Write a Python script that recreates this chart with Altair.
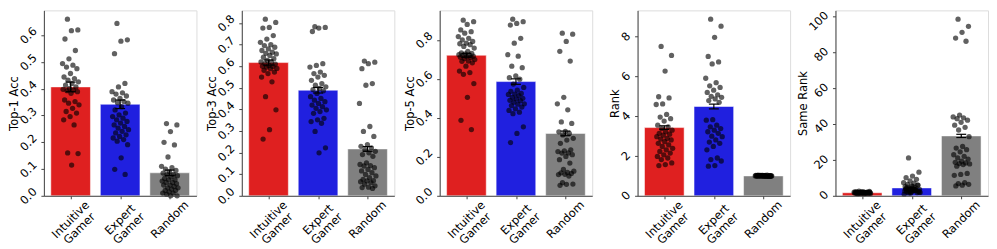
import json
import altair as alt
import pandas as pd

GROUPS = ["Intuitive\nGamer", "Expert\nGamer", "Random"]
COLORS = ["#df2020", "#2020df", "#808080"]

TITLES = ["Top-1 Acc", "Top-3 Acc", "Top-5 Acc", "Rank", "Same Rank"]
TICKS = [
    [0.0, 0.1, 0.2, 0.3, 0.4, 0.5, 0.6],
    [0.0, 0.1, 0.2, 0.3, 0.4, 0.5, 0.6, 0.7, 0.8],
    [0.0, 0.2, 0.4, 0.6, 0.8],
    [0, 2, 4, 6, 8],
    [0, 20, 40, 60, 80, 100],
]
FORMATS = [".1f", ".1f", ".1f", "d", "d"]

MEANS = [
    [0.407, 0.342, 0.086],
    [0.617, 0.489, 0.217],
    [0.721, 0.586, 0.320],
    [3.43, 4.49, 1.00],
    [1.7, 4.4, 33.4],
]
SEMS = [
    [0.018, 0.016, 0.010],
    [0.012, 0.013, 0.011],
    [0.010, 0.014, 0.012],
    [0.09, 0.12, 0.005],
    [0.06, 0.30, 0.9],
]

top1_intuitive = [0.66, 0.62, 0.617, 0.586, 0.543, 0.512, 0.494, 0.488, 0.481, 0.475, 0.457, 0.444,
                  0.438, 0.432, 0.426, 0.42, 0.414, 0.407, 0.401, 0.398, 0.395, 0.393, 0.389, 0.383,
                  0.358, 0.352, 0.346, 0.34, 0.327, 0.315, 0.309, 0.296, 0.284, 0.265, 0.16, 0.158, 0.115]
top1_expert = [0.644, 0.583, 0.578, 0.531, 0.42, 0.407, 0.389, 0.385, 0.38, 0.373, 0.364, 0.358, 0.352,
               0.348, 0.346, 0.333, 0.321, 0.309, 0.302, 0.296, 0.29, 0.284, 0.278, 0.272, 0.265, 0.259,
               0.253, 0.247, 0.241, 0.235, 0.228, 0.222, 0.216, 0.21, 0.204, 0.191, 0.142, 0.099, 0.08]
top1_random = [0.27, 0.265, 0.24, 0.2, 0.19, 0.145, 0.11, 0.105, 0.1, 0.095, 0.09, 0.085, 0.08, 0.08,
               0.075, 0.07, 0.065, 0.06, 0.06, 0.055, 0.05, 0.05, 0.045, 0.04, 0.04, 0.035, 0.03, 0.03,
               0.025, 0.02, 0.02, 0.015, 0.01, 0.01, 0.005, 0.0, 0.0]

top3_intuitive = [0.818, 0.803, 0.78, 0.777, 0.742, 0.726, 0.711, 0.70, 0.696, 0.688, 0.68, 0.673, 0.665,
                  0.66, 0.657, 0.65, 0.642, 0.635, 0.627, 0.62, 0.619, 0.612, 0.61, 0.604, 0.60, 0.599,
                  0.596, 0.59, 0.589, 0.581, 0.573, 0.566, 0.55, 0.528, 0.459, 0.398, 0.306, 0.263]
top3_expert = [0.783, 0.78, 0.777, 0.761, 0.612, 0.604, 0.596, 0.573, 0.566, 0.558, 0.55, 0.535, 0.52,
               0.512, 0.505, 0.497, 0.492, 0.486, 0.474, 0.459, 0.451, 0.443, 0.436, 0.428, 0.42, 0.413,
               0.405, 0.398, 0.39, 0.382, 0.359, 0.352, 0.344, 0.336, 0.298, 0.222, 0.199]
top3_random = [0.624, 0.619, 0.612, 0.589, 0.52, 0.512, 0.428, 0.321, 0.298, 0.275, 0.237, 0.229, 0.222,
               0.214, 0.206, 0.199, 0.191, 0.183, 0.153, 0.145, 0.14, 0.138, 0.13, 0.122, 0.115, 0.107,
               0.099, 0.092, 0.084, 0.076, 0.07, 0.069, 0.065, 0.061, 0.054, 0.046, 0.04, 0.038, 0.034]

top5_intuitive = [0.901, 0.893, 0.879, 0.851, 0.842, 0.834, 0.817, 0.808, 0.8, 0.792, 0.783, 0.78, 0.775,
                  0.766, 0.758, 0.741, 0.733, 0.73, 0.728, 0.724, 0.721, 0.72, 0.716, 0.715, 0.711, 0.71,
                  0.704, 0.699, 0.691, 0.69, 0.682, 0.665, 0.64, 0.632, 0.623, 0.576, 0.505, 0.387, 0.34]
top5_expert = [0.906, 0.893, 0.884, 0.876, 0.808, 0.783, 0.724, 0.716, 0.665, 0.657, 0.615, 0.606, 0.598,
               0.573, 0.556, 0.542, 0.536, 0.525, 0.522, 0.52, 0.514, 0.505, 0.5, 0.497, 0.49, 0.488,
               0.48, 0.472, 0.47, 0.463, 0.455, 0.446, 0.438, 0.429, 0.421, 0.354, 0.32, 0.273]
top5_random = [0.834, 0.829, 0.792, 0.741, 0.691, 0.505, 0.472, 0.441, 0.379, 0.371, 0.33, 0.328, 0.32,
               0.312, 0.295, 0.286, 0.269, 0.236, 0.23, 0.227, 0.22, 0.219, 0.211, 0.202, 0.185, 0.168,
               0.135, 0.126, 0.12, 0.118, 0.115, 0.11, 0.109, 0.101, 0.067, 0.06, 0.059, 0.054]

rank_intuitive = [7.51, 7.06, 6.27, 4.98, 4.92, 4.62, 4.59, 4.09, 3.96, 3.88, 3.76, 3.55, 3.47, 3.38, 3.3,
                  3.22, 3.14, 3.1, 3.05, 2.97, 2.89, 2.85, 2.81, 2.72, 2.64, 2.56, 2.48, 2.39, 2.31, 2.23,
                  2.15, 2.06, 1.98, 1.9, 1.82, 1.65, 1.57, 1.52]
rank_expert = [8.88, 8.53, 7.97, 7.01, 6.73, 6.63, 5.91, 5.69, 5.53, 5.45, 5.31, 5.2, 5.08, 5.0, 4.95,
               4.87, 4.79, 4.7, 3.83, 3.8, 3.55, 3.47, 3.38, 3.3, 3.22, 3.14, 3.0, 2.97, 2.81, 2.7, 2.64,
               2.48, 2.31, 1.9, 1.82, 1.75, 1.52, 1.49]
rank_random = [1.02, 0.99, 1.0, 1.01, 0.98, 1.03, 1.0, 0.99, 1.02, 1.01, 1.0, 0.98, 1.04, 1.0, 0.99, 1.01,
               1.02, 1.0, 0.99, 1.03, 1.0, 1.01, 0.98, 1.0, 1.02, 0.99, 1.01, 1.0, 1.03, 0.99, 1.0, 1.02,
               1.01, 0.98, 1.0, 1.01, 0.99, 1.02]

same_intuitive = [2.6, 2.4, 2.3, 2.2, 2.1, 2.0, 2.0, 1.9, 1.9, 1.8, 1.8, 1.8, 1.7, 1.7, 1.7, 1.6, 1.6, 1.6,
                  1.5, 1.5, 1.5, 1.5, 1.4, 1.4, 1.4, 1.3, 1.3, 1.3, 1.2, 1.2, 1.9, 2.1, 2.2, 1.7, 1.6, 2.0,
                  1.8, 1.5]
same_expert = [21.1, 13.2, 11.0, 10.1, 9.2, 8.3, 7.3, 7.0, 6.4, 5.9, 5.5, 5.1, 4.6, 4.0, 3.6, 2.75, 2.2,
               1.8, 1.5, 0.9, 3.0, 3.3, 2.5, 4.2, 3.8, 2.9, 2.4, 1.9, 3.5, 4.8, 6.0, 2.1, 2.7, 3.1, 1.6,
               2.0, 5.3, 3.9]
same_random = [98.5, 94.5, 91.2, 88.0, 86.2, 45.0, 44.0, 43.5, 43.0, 42.2, 41.0, 39.4, 38.2, 36.7, 33.0,
               27.5, 26.6, 25.7, 24.5, 22.9, 22.0, 21.1, 20.5, 19.3, 18.7, 18.3, 18.0, 17.8, 17.4, 16.5,
               12.5, 11.9, 11.4, 7.3, 6.8, 6.4, 5.9, 5.5]

POINTS = [
    [top1_intuitive, top1_expert, top1_random],
    [top3_intuitive, top3_expert, top3_random],
    [top5_intuitive, top5_expert, top5_random],
    [rank_intuitive, rank_expert, rank_random],
    [same_intuitive, same_expert, same_random],
]

FONT = "DejaVu Sans"
FS = 11.5
FRAME = "#444444"

# per-panel axis layout (extent, title padding, label vertical offset)
EXTENT = [18, 18, 18, 12, 21]
TPAD = [6, 6, 6, 5, 6]
LOFF = [-6, -6, -6, -2.5, -3]

label_cases = []
for gi, name in enumerate(GROUPS):
    label_cases.append((gi, json.dumps(name.split("\n"))))
label_expr = ""
for gi, arr in label_cases[:-1]:
    label_expr += f"datum.value == {gi} ? {arr} : "
label_expr += label_cases[-1][1]

X_DOMAIN = [-0.54, 2.54]


def make_panel(k):
    rows = []
    for g, vals in enumerate(POINTS[k]):
        for i, v in enumerate(vals):
            rows.append({"g": g, "i": i, "v": v})
    pdf = pd.DataFrame(rows)
    bdf = pd.DataFrame({"g": [0, 1, 2], "m": MEANS[k], "s": SEMS[k]})
    ymax = max(max(p) for p in POINTS[k]) * 1.05

    xscale = alt.Scale(domain=X_DOMAIN, nice=False, zero=False)
    yscale = alt.Scale(domain=[0, ymax], nice=False, zero=True)

    xaxis = alt.Axis(
        values=[0, 1, 2], labelExpr=label_expr, title=None, grid=False,
        labelAngle=315, labelAlign="center", labelBaseline="middle",
        labelPadding=21, labelLineHeight=12.5, tickSize=3, labelOverlap=False,
        labelFont=FONT, labelFontSize=FS, labelColor="black",
        domainColor=FRAME, tickColor=FRAME, zindex=1,
    )
    yaxis = alt.Axis(
        values=TICKS[k], format=FORMATS[k], title=TITLES[k], grid=False,
        labelAngle=315, labelAlign="right", labelBaseline="middle",
        labelOffset=LOFF[k], labelPadding=6, tickSize=3, labelOverlap=False,
        minExtent=EXTENT[k], maxExtent=EXTENT[k], titlePadding=TPAD[k],
        labelFont=FONT, labelFontSize=FS, labelColor="black",
        titleFont=FONT, titleFontSize=FS, titleFontWeight="normal", titleColor="black",
        domainColor=FRAME, tickColor=FRAME, zindex=1,
    )

    base_b = alt.Chart(bdf).transform_calculate(
        x0="datum.g - 0.4", x1="datum.g + 0.4",
        lo="datum.m - datum.s", hi="datum.m + datum.s",
        c0="datum.g - 0.1", c1="datum.g + 0.1",
    )
    bars = base_b.mark_rect(stroke="white", strokeOpacity=0.5, strokeWidth=1).encode(
        x=alt.X("x0:Q", scale=xscale, axis=xaxis),
        x2="x1:Q",
        y=alt.Y("m:Q", scale=yscale, axis=yaxis),
        y2=alt.datum(0),
        color=alt.Color("g:N", scale=alt.Scale(domain=[0, 1, 2], range=COLORS), legend=None),
    )
    err = base_b.mark_rule(color="black", strokeWidth=1.2).encode(
        x=alt.X("g:Q", axis=xaxis), y=alt.Y("lo:Q", axis=yaxis), y2="hi:Q",
    )
    cap_lo = base_b.mark_rule(color="black", strokeWidth=1.2).encode(
        x=alt.X("c0:Q", axis=xaxis), x2="c1:Q", y=alt.Y("lo:Q", axis=yaxis),
    )
    cap_hi = base_b.mark_rule(color="black", strokeWidth=1.2).encode(
        x=alt.X("c0:Q", axis=xaxis), x2="c1:Q", y=alt.Y("hi:Q", axis=yaxis),
    )
    pts = alt.Chart(pdf).transform_calculate(
        xj="datum.g + (((datum.i * 0.618034 + 0.31) % 1) - 0.5) * 0.34"
    ).mark_circle(size=28, color="black", opacity=0.62).encode(
        x=alt.X("xj:Q", axis=xaxis), y=alt.Y("v:Q", axis=yaxis),
    )
    return alt.layer(bars, err, cap_lo, cap_hi, pts).properties(width=153, height=186)


chart = alt.hconcat(*[make_panel(k) for k in range(5)], spacing=45.5, bounds="flush").properties(
    padding=0
).configure_view(stroke=FRAME, strokeWidth=1).configure_axis(
    labelOverlap=False
).configure(font=FONT)

chart.save("out.html", embed_options={"renderer": "svg", "actions": False})
